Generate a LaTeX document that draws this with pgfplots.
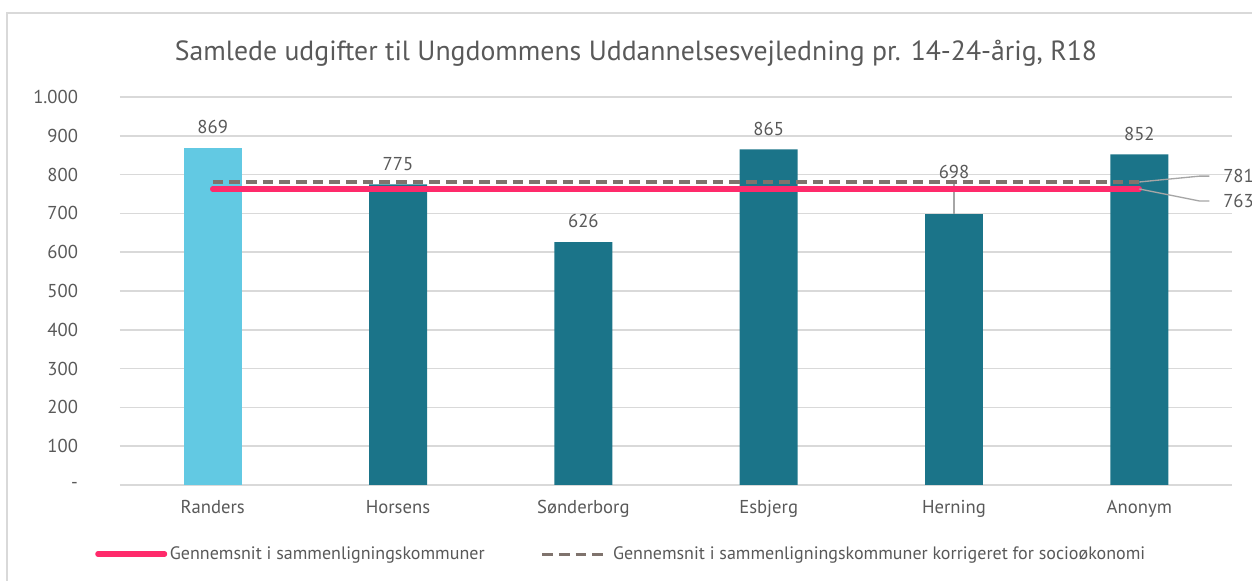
\documentclass[border=0pt]{standalone}
\usepackage{pgfplots}
\pgfplotsset{compat=1.18}
\usepackage{fontspec}
\setmainfont{PT Sans}
\definecolor{lightbar}{HTML}{62C9E3}
\definecolor{darkbar}{HTML}{1B7489}
\definecolor{pinkline}{HTML}{FF2A6B}
\definecolor{dashgray}{HTML}{7F736D}
\definecolor{txt}{HTML}{595959}
\definecolor{gridc}{HTML}{D9D9D9}
\definecolor{leader}{HTML}{A6A6A6}
\begin{document}
\begin{tikzpicture}
\begin{axis}[
  at={(0,0)}, anchor=south west,
  scale only axis, width=834pt, height=291pt,
  xmin=-0.5, xmax=5.5, ymin=0, ymax=1000,
  clip=false,
  /pgf/number format/assume math mode=true,
  axis line style={draw=none},
  xtick={0,1,2,3,4,5},
  xticklabels={Randers,Horsens,Sønderborg,Esbjerg,Herning,Anonym},
  ytick={0,100,...,1000},
  yticklabels={{-\hspace{9pt}},100,200,300,400,500,600,700,800,900,{1.000}},
  major tick length=0pt,
  ymajorgrids, grid style={gridc, line width=1.1pt},
  tick label style={txt, font=\fontsize{14}{16}\selectfont},
  yticklabel shift=28pt,
  xticklabel shift=8.2pt,
  ybar, bar width=43.5pt, bar shift=0pt,
  nodes near coords,
  every node near coord/.append style={txt, font=\fontsize{14}{16}\selectfont, yshift=7pt},
  legend columns=2,
  legend style={at={(-0.0225,-0.178)}, anchor=west, draw=none, fill=none, inner sep=0pt,
    font=\fontsize{13.5}{16}\selectfont, text=txt,
    nodes={inner sep=2pt},
    /tikz/every even column/.append style={column sep=40pt}},
  legend image code/.code={\draw[#1] (0pt,0pt) -- (50pt,0pt);},
]
\draw[gridc, line width=1.1pt] (axis cs:-0.5,0) -- (axis cs:5.5,0);
\addplot[fill=lightbar, draw=none, forget plot] coordinates {(0,869)};
\addplot[fill=darkbar, draw=none, forget plot] coordinates {(1,775) (2,626) (3,865) (5,852)};
\addplot[fill=darkbar, draw=none, forget plot,
  every node near coord/.append style={yshift=15.75pt}] coordinates {(4,698)};
\draw[leader, line width=1pt] (axis cs:4,698) -- (axis cs:4,778);
\addplot[sharp plot, pinkline, line width=4pt, line cap=round, nodes near coords={}, no marks]
  coordinates {(0,763) (1,763) (2,763) (3,763) (4,763) (5,763)};
\addlegendentry{Gennemsnit i sammenligningskommuner}
\addplot[sharp plot, dashgray, line width=2.3pt, dash pattern=on 8pt off 4.5pt, nodes near coords={}, no marks]
  coordinates {(0,781) (1,781) (2,781) (3,781) (4,781) (5,781)};
\addlegendentry{Gennemsnit i sammenligningskommuner korrigeret for socioøkonomi}
\draw[leader, line width=1pt] (axis cs:5,781) -- (axis cs:5.324,796) -- (axis cs:5.378,796);
\draw[leader, line width=1pt] (axis cs:5,763) -- (axis cs:5.324,732) -- (axis cs:5.378,732);
\node[txt, anchor=west, font=\fontsize{14}{16}\selectfont, inner sep=3pt] at (axis cs:5.43,796) {781};
\node[txt, anchor=west, font=\fontsize{14}{16}\selectfont, inner sep=3pt] at (axis cs:5.43,732) {763};
\end{axis}
\node[txt, font=\fontsize{20.8}{23}\selectfont] at (387pt,324pt) {Samlede udgifter til Ungdommens Uddannelsesvejledning pr. 14-24-årig, R18};
\draw[gridc, line width=1.5pt] (-84.75pt,-80pt) -- (-84.75pt,354pt) -- (860pt,354pt);
\pgfresetboundingbox
\path[use as bounding box] (-90pt,-72pt) rectangle (849pt,363.75pt);
\end{tikzpicture}
\end{document}
